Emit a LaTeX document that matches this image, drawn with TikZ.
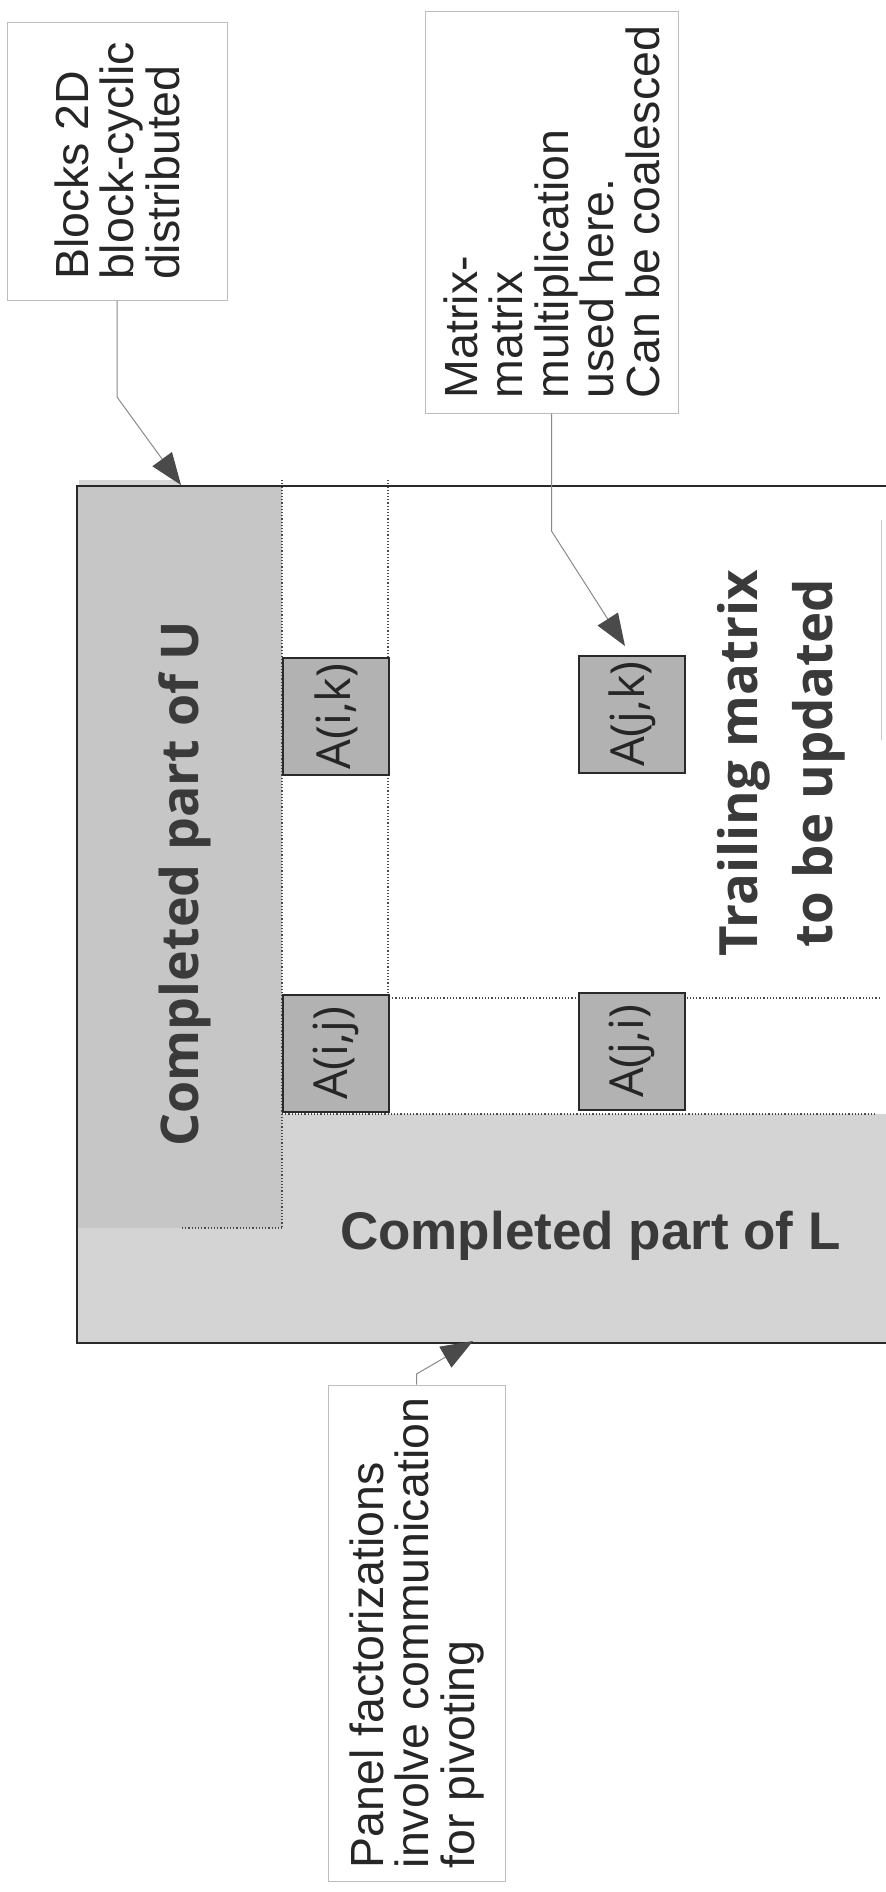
\documentclass[tikz,border=0pt]{standalone}
\usepackage{fontspec}
\setmainfont{Liberation Sans}
\newfontfamily\humfont{Open Sans}
\usetikzlibrary{arrows.meta}

\definecolor{ushade}{HTML}{C6C6C6}
\definecolor{lshade}{HTML}{D4D4D4}
\definecolor{cellfill}{HTML}{B2B2B2}
\definecolor{edgegray}{HTML}{2A2A2A}
\definecolor{leadgray}{HTML}{8A8A8A}
\definecolor{tipgray}{HTML}{4A4A4A}
\definecolor{boxline}{HTML}{BDBDBD}
\definecolor{inkgray}{HTML}{262626}
\definecolor{labelgray}{HTML}{3A3A3A}

\begin{document}
\begin{tikzpicture}[x=0.5pt,y=-0.5pt,
  notebox/.style={draw=boxline, line width=0.5pt, fill=white, rotate=90,
    inner sep=0pt, align=left, text=inkgray,
    font=\fontsize{23.25pt}{22.75pt}\selectfont},
  leader/.style={draw=leadgray, line width=0.5pt,
    -{Triangle[length=16pt,width=12pt,color=tipgray]}},
  cellbox/.style={draw=edgegray, line width=1pt, fill=cellfill, rotate=90,
    inner sep=0pt, minimum width=58.5pt, minimum height=53pt, text=inkgray,
    font=\humfont\fontsize{23.5pt}{28pt}\selectfont},
  matedge/.style={draw=edgegray, line width=1.1pt},
  gridline/.style={draw=edgegray!85, line width=0.6pt, densely dotted},
]
\useasboundingbox (0,0) rectangle (886,1892);
\fill[white] (0,0) rectangle (886,1892);

% shaded regions of the factored matrix
\fill[lshade] (77,1114) rectangle (886,1343);
\fill[ushade] (77,486) rectangle (282,1228);
\fill[ushade!70] (79,480) rectangle (180,486);

% block boundaries
\draw[gridline] (282,480) -- (282,1228);
\draw[gridline] (388,480) -- (388,996);
\draw[gridline] (389,998) -- (880,998);
\draw[gridline] (282,1114) -- (876,1114);
\draw[gridline] (182,1228) -- (282,1228);

% matrix outline
\draw[matedge] (886,486) -- (77,486) -- (77,1343) -- (886,1343);
\draw[gray!45, line width=0.5pt] (881,520) -- (881,740);

% region labels
\node[rotate=90, anchor=base, text=labelgray,
  font=\humfont\bfseries\fontsize{26pt}{30pt}\selectfont] (upart) at (198,884) {Completed part of U};
\node[anchor=base, text=labelgray,
  font=\bfseries\fontsize{26.5pt}{30pt}\selectfont] (lpart) at (590.5,1249) {Completed part of L};
\node[rotate=90, align=center, text=labelgray,
  font=\humfont\bfseries\fontsize{26.4pt}{37.5pt}\selectfont] (trail) at (781,763) {Trailing matrix\\to be updated};

% individual blocks
\node[cellbox] (aik) at (336,716.5) {A(i,k)};
\node[cellbox] (ajk) at (632,714) {A(j,k)};
\node[cellbox] (aij) at (336,1053.5) {A(i,j)};
\node[cellbox] (aji) at (632,1051.5) {A(j,i)};

% callouts
\node[notebox, minimum width=139pt, minimum height=110pt] (blocks) at (117,161)
  {Blocks 2D\\block-cyclic\\distributed};
\node[notebox, minimum width=201pt, minimum height=126.5pt] (mmult) at (551.5,212)
  {Matrix-\\matrix\\multiplication\\used here.\\Can be coalesced};
\node[notebox, minimum width=248pt, minimum height=88.5pt] (panel) at (416.5,1633)
  {Panel factorizations\\involve communication\\for pivoting};

\coordinate (blocksbend) at (117,397);
\coordinate (blockstip) at (181,485);
\coordinate (mmultbend) at (551.5,531);
\coordinate (mmulttip) at (625,646);
\coordinate (panelbend) at (416.5,1374);
\coordinate (paneltip) at (473,1341);

\draw[leader] (blocks.west) -- (blocksbend) -- (blockstip);
\draw[leader] (mmult.west) -- (mmultbend) -- (mmulttip);
\draw[leader] (panel.east) -- (panelbend) -- (paneltip);
\end{tikzpicture}
\end{document}
